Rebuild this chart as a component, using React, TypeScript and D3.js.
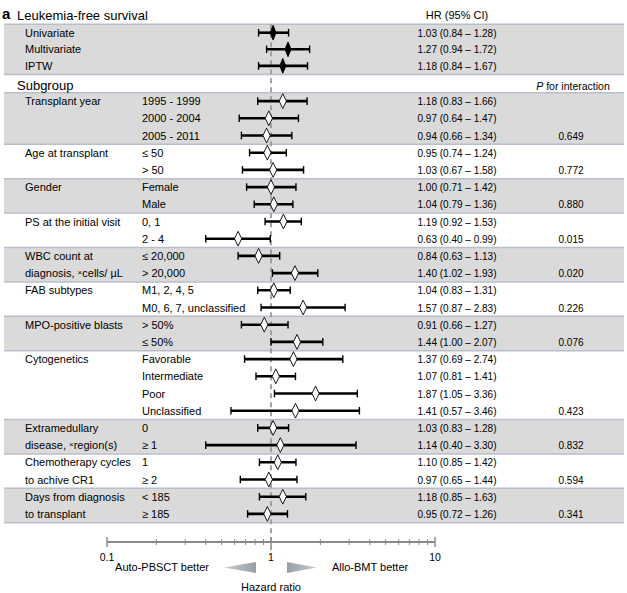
import React from "react";
import * as d3 from "d3";

const overallLabels = ["Univariate", "Multivariate", "IPTW"];
const overallHR = [1.03, 1.27, 1.18];
const overallLo = [0.84, 0.94, 0.84];
const overallHi = [1.28, 1.72, 1.67];

const groupNames = [
  ["Transplant year"],
  ["Age at transplant"],
  ["Gender"],
  ["PS at the initial visit"],
  ["WBC count at", "diagnosis, ×cells/ µL"],
  ["FAB subtypes"],
  ["MPO-positive blasts"],
  ["Cytogenetics"],
  ["Extramedullary", "disease, ×region(s)"],
  ["Chemotherapy cycles", "to achive CR1"],
  ["Days from diagnosis", "to transplant"],
];
const groupSizes = [3, 2, 2, 2, 2, 2, 2, 4, 2, 2, 2];
const groupP = ["0.649", "0.772", "0.880", "0.015", "0.020", "0.226", "0.076", "0.423", "0.832", "0.594", "0.341"];

const subLabels = [
  "1995 - 1999", "2000 - 2004", "2005 - 2011",
  "≤ 50", "> 50",
  "Female", "Male",
  "0, 1", "2 - 4",
  "≤ 20,000", "> 20,000",
  "M1, 2, 4, 5", "M0, 6, 7, unclassified",
  "> 50%", "≤ 50%",
  "Favorable", "Intermediate", "Poor", "Unclassified",
  "0", "≥ 1",
  "1", "≥ 2",
  "< 185", "≥ 185",
];
const subHR = [1.18, 0.97, 0.94, 0.95, 1.03, 1.0, 1.04, 1.19, 0.63, 0.84, 1.4, 1.04, 1.57, 0.91, 1.44, 1.37, 1.07, 1.87, 1.41, 1.03, 1.14, 1.1, 0.97, 1.18, 0.95];
const subLo = [0.83, 0.64, 0.66, 0.74, 0.67, 0.71, 0.79, 0.92, 0.4, 0.63, 1.02, 0.83, 0.87, 0.66, 1.0, 0.69, 0.81, 1.05, 0.57, 0.83, 0.4, 0.85, 0.65, 0.85, 0.72];
const subHi = [1.66, 1.47, 1.34, 1.24, 1.58, 1.42, 1.36, 1.53, 0.99, 1.13, 1.93, 1.31, 2.83, 1.27, 2.07, 2.74, 1.41, 3.36, 3.46, 1.28, 3.3, 1.42, 1.44, 1.63, 1.26];

const axisTicks = [0.1, 1, 10];
const minorTicks = [0.2, 0.3, 0.4, 0.5, 0.6, 0.7, 0.8, 0.9, 2, 3, 4, 5, 6, 7, 8, 9];

const FONT = "'Liberation Sans', Arial, Helvetica, sans-serif";
const fmt = (v: number) => v.toFixed(2);
const hrText = (h: number, l: number, u: number) => `${fmt(h)} (${fmt(l)} – ${fmt(u)})`;

export default function App() {
  const W = 627, H = 593;
  const x = d3.scaleLog().domain([0.1, 10]).range([107, 435]);
  const bandX0 = 4, bandX1 = 624;
  const grayFill = "#dadada";
  const sepColor = "#b8bfca";
  const topBand0 = 24.3, topStep = 16.6;
  const topY = (i: number) => topBand0 + 8.4 + i * topStep;
  const topBand1 = topBand0 + topStep * 3 + 0.4;
  const subBand0 = 92.7, step = 17.2;
  const subY = (k: number) => subBand0 + k * step + 8.4;
  const hrX = 457, pX = 571;
  const labX = 25, subLabX = 142;

  const bands: any[] = [];
  let k = 0;
  groupSizes.forEach((n, g) => {
    const y0 = subBand0 + k * step;
    bands.push({ y0, y1: y0 + n * step, gray: g % 2 === 0, g, start: k, n });
    k += n;
  });

  const ci = (yy: number, h: number, l: number, u: number, filled: boolean, key: string) => {
    const xl = x(l), xu = x(u), xh = x(h);
    const dw = filled ? 3 : 3.6, dh = 7.4;
    return (
      <g key={key}>
        <line x1={xl} x2={xu} y1={yy} y2={yy} stroke="#000" strokeWidth={2.6} />
        <line x1={xl} x2={xl} y1={yy - 3.8} y2={yy + 3.8} stroke="#000" strokeWidth={1.4} />
        <line x1={xu} x2={xu} y1={yy - 3.8} y2={yy + 3.8} stroke="#000" strokeWidth={1.4} />
        <path d={`M${xh},${yy - dh}L${xh + dw},${yy}L${xh},${yy + dh}L${xh - dw},${yy}Z`}
          fill={filled ? "#000" : "#fff"} stroke="#000" strokeWidth={0.9} />
      </g>
    );
  };

  const renderLabel = (s: string) => {
    const i = s.indexOf("×");
    if (i < 0) return s;
    return (
      <>
        {s.slice(0, i)}
        <tspan fontSize={8} dy={-2}>×</tspan>
        <tspan dy={2}>{s.slice(i + 1)}</tspan>
      </>
    );
  };

  const x1 = x(1);
  const axisY = 542;

  return (
    <svg width={W} height={H} style={{ position: "absolute", left: 0, top: 0, background: "#fff" }} fontFamily={FONT}>
      <defs>
        <linearGradient id="gl" x1="0" x2="1" y1="0" y2="0">
          <stop offset="0" stopColor="#c9cdd1" />
          <stop offset="1" stopColor="#989ea4" />
        </linearGradient>
        <linearGradient id="gr" x1="1" x2="0" y1="0" y2="0">
          <stop offset="0" stopColor="#c9cdd1" />
          <stop offset="1" stopColor="#989ea4" />
        </linearGradient>
      </defs>
      {/* top band */}
      <rect x={bandX0} y={topBand0} width={bandX1 - bandX0} height={topBand1 - topBand0} fill={grayFill} />
      {bands.filter((b) => b.gray).map((b) => (
        <rect key={"b" + b.g} x={bandX0} y={b.y0} width={bandX1 - bandX0} height={b.y1 - b.y0} fill={grayFill} />
      ))}
      {/* separators */}
      {[topBand0, topBand1, subBand0, ...bands.map((b) => b.y1)].map((yy, i) => (
        <line key={"s" + i} x1={bandX0} x2={bandX1} y1={yy} y2={yy} stroke={sepColor} strokeWidth={1.5} />
      ))}

      {/* headers */}
      <text x={2} y={19} fontSize={15} fontWeight="bold">a</text>
      <text x={17} y={20} fontSize={13}>Leukemia-free survival</text>
      <text x={hrX} y={19} fontSize={11} textAnchor="middle">HR (95% CI)</text>
      <text x={17} y={topBand1 + 15.5} fontSize={13}>Subgroup</text>
      <text x={573} y={topBand1 + 15} fontSize={10.5} textAnchor="middle">
        <tspan fontStyle="italic">P</tspan> for interaction
      </text>

      {/* reference dashed line */}
      <line x1={x1} x2={x1} y1={topBand0} y2={axisY + 8} stroke="#9a9a9a" strokeWidth={1.8} strokeDasharray="5,4" />

      {/* overall rows */}
      {overallLabels.map((lab, i) => (
        <g key={"o" + i}>
          <text x={labX} y={topY(i) + 4} fontSize={11}>{lab}</text>
          <text x={hrX} y={topY(i) + 4} fontSize={10} textAnchor="middle">{hrText(overallHR[i], overallLo[i], overallHi[i])}</text>
          {ci(topY(i), overallHR[i], overallLo[i], overallHi[i], true, "oc" + i)}
        </g>
      ))}

      {/* subgroup rows */}
      {bands.map((b) => (
        <g key={"g" + b.g}>
          {groupNames[b.g].map((ln, j) => (
            <text key={j} x={labX} y={subY(b.start + j) + 4} fontSize={11}>{renderLabel(ln)}</text>
          ))}
          <text x={pX} y={subY(b.start + b.n - 1) + 4} fontSize={10} textAnchor="middle">{groupP[b.g]}</text>
        </g>
      ))}
      {subLabels.map((lab, i) => (
        <g key={"r" + i}>
          <text x={subLabX} y={subY(i) + 4} fontSize={11}>{lab}</text>
          <text x={hrX} y={subY(i) + 4} fontSize={10} textAnchor="middle">{hrText(subHR[i], subLo[i], subHi[i])}</text>
          {ci(subY(i), subHR[i], subLo[i], subHi[i], false, "sc" + i)}
        </g>
      ))}

      {/* axis */}
      <line x1={x(0.1)} x2={x(10)} y1={axisY} y2={axisY} stroke="#8a8a8a" strokeWidth={2} />
      {minorTicks.map((t) => (
        <line key={"m" + t} x1={x(t)} x2={x(t)} y1={axisY - 3} y2={axisY + 3} stroke="#8a8a8a" strokeWidth={1} />
      ))}
      {axisTicks.map((t) => (
        <g key={"t" + t}>
          <line x1={x(t)} x2={x(t)} y1={axisY - 5} y2={axisY + 5} stroke="#8a8a8a" strokeWidth={1.5} />
          <text x={x(t)} y={axisY + 19} fontSize={10.5} textAnchor="middle">{String(t)}</text>
        </g>
      ))}
      {/* direction arrows */}
      <path d={`M${x1 - 47},${axisY + 25.5}L${x1 - 15},${axisY + 20}L${x1 - 15},${axisY + 31}Z`} fill="url(#gl)" />
      <path d={`M${x1 + 46},${axisY + 25.5}L${x1 + 16},${axisY + 20}L${x1 + 16},${axisY + 31}Z`} fill="url(#gr)" />
      <text x={209} y={axisY + 29} fontSize={11} textAnchor="end">Auto-PBSCT better</text>
      <text x={332} y={axisY + 29} fontSize={11}>Allo-BMT better</text>
      <text x={x1} y={axisY + 49} fontSize={11} textAnchor="middle">Hazard ratio</text>
    </svg>
  );
}
